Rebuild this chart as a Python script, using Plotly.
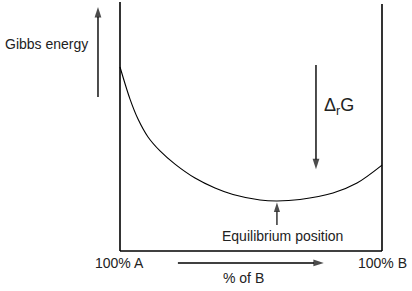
import plotly.graph_objects as go

# Composition (% of B) and Gibbs energy (arbitrary units)
pct_B = [0, 3.82, 6.87, 10.69, 15.27, 20.99, 28.63, 36.26, 43.13, 53.44, 59.92, 68.70, 81.30, 90.46, 100]
gibbs = [73.9, 61.0, 53.0, 45.8, 40.2, 34.9, 29.3, 25.3, 22.7, 20.5, 20.1, 20.7, 23.3, 27.3, 34.5]

x_left, x_right = 0, 100
g_bottom, g_top_left, g_top_right = 0, 100, 99.2
eq_x, eq_g = 59.9, 20.1

FONT = "Liberation Sans, Arial, sans-serif"
TXT = "#222222"

fig = go.Figure()
fig.add_trace(go.Scatter(x=pct_B, y=gibbs, mode="lines", line=dict(color="black", width=1.1, shape="spline", smoothing=0.9),
                         hoverinfo="skip", showlegend=False))

# frame
fig.add_shape(type="line", x0=x_left, x1=x_left, y0=g_bottom, y1=g_top_left, line=dict(color="black", width=1.6))
fig.add_shape(type="line", x0=x_right, x1=x_right, y0=g_bottom, y1=g_top_right, line=dict(color="black", width=1.6))
fig.add_shape(type="line", x0=x_left, x1=x_right, y0=g_bottom, y1=g_bottom, line=dict(color="black", width=1.6))

def arrow(x0, y0, x1, y1, w=1.4, head=11):
    fig.add_trace(go.Scatter(x=[x0, x1], y=[y0, y1], mode="lines+markers",
                             line=dict(color="black", width=w),
                             marker=dict(symbol="arrow", angleref="previous", size=[0, head], color="black",
                                         line=dict(width=0), standoff=0),
                             hoverinfo="skip", showlegend=False, cliponaxis=False))

arrow(-8.4, 61.8, -8.4, 98.0)          # Gibbs energy arrow
arrow(74.8, 74.7, 74.8, 32.8)          # ΔrG arrow
arrow(eq_x, 10.4, eq_x, eq_g - 0.6, w=1.2, head=10)  # equilibrium arrow
arrow(22.1, -4.8, 77.8, -4.8)          # % of B arrow

def text(x, y, s, size=14, anchor="center"):
    fig.add_annotation(x=x, y=y, xref="x", yref="y", text=s, showarrow=False, xanchor=anchor, yanchor="middle",
                       font=dict(family=FONT, size=size, color=TXT))

text(-28.0, 83.1, "Gibbs energy", 14)
text(77.0, 58.0, "Δ<sub>r</sub>G", 18, anchor="left")
text(62.0, 6.0, "Equilibrium position", 14)
text(-0.2, -4.8, "100% A", 14)
text(100.0, -4.8, "100% B", 14)
text(47.1, -10.8, "% of B", 14)

fig.update_layout(width=412, height=291, margin=dict(l=0, r=0, t=0, b=0),
                  paper_bgcolor="white", plot_bgcolor="white",
                  xaxis=dict(range=[-45.8, 111.45], visible=False, fixedrange=True),
                  yaxis=dict(range=[-16.06, 100.8], visible=False, fixedrange=True))
fig.write_html("out.html")
